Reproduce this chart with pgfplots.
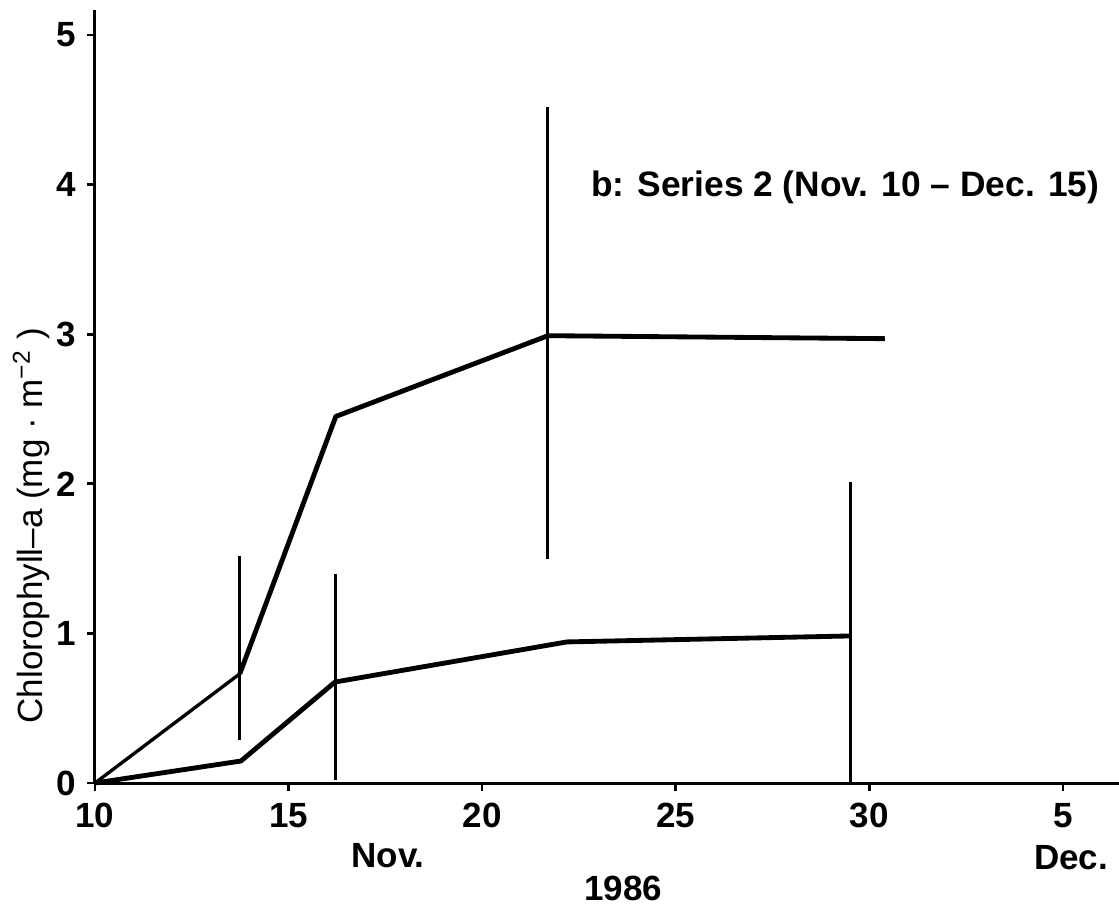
\documentclass[border=0pt]{standalone}
\usepackage{fontspec}
\setmainfont{Liberation Sans}
\usepackage{pgfplots}
\pgfplotsset{compat=1.18}
\begin{document}
\begin{tikzpicture}
\begin{axis}[
  name=ax,
  scale only axis,
  width=307.2pt, height=231.9pt,
  xmin=10, xmax=36.45, ymin=0, ymax=5.167,
  axis x line*=bottom, axis y line*=left,
  axis line style={line width=0.9pt},
  xtick={10,15,20,25,30,35}, xticklabels={10,15,20,25,30,5},
  ytick={0,1,2,3,4,5}, yticklabels={0,1,2,3,4,5},
  tick align=outside, major tick length=2.4pt,
  tick style={line width=0.8pt, black},
  ticklabel style={font=\bfseries\fontsize{10.5}{12}\selectfont},
  xticklabel style={inner sep=3.4pt},
  yticklabel style={inner sep=3.2pt},
  /pgf/number format/assume math mode=true,
  clip=false,
]
% upper series
\addplot[black, line width=1.0pt, line join=round] coordinates {(10,0) (13.74,0.73)};
\addplot[black, line width=1.45pt, line join=round] coordinates {(13.74,0.73) (16.22,2.45) (21.70,2.99) (30.40,2.97)};
% lower series
\addplot[black, line width=1.45pt, line join=round] coordinates {(10,0) (13.77,0.147) (16.20,0.675) (22.19,0.943) (29.52,0.983)};
% vertical range bars
\addplot[black, line width=0.9pt] coordinates {(13.74,0.29) (13.74,1.52)};
\addplot[black, line width=0.9pt] coordinates {(16.20,0.02) (16.20,1.40)};
\addplot[black, line width=0.9pt] coordinates {(21.70,1.50) (21.70,4.52)};
\addplot[black, line width=0.9pt] coordinates {(29.52,0) (29.52,2.01)};
% texts
\node[anchor=base west, font=\bfseries\fontsize{10.6}{12}\selectfont, inner sep=0pt] at (axis cs:22.8,3.92) {b: Series 2 (Nov. 10 – Dec. 15)};
\node[anchor=base, font=\bfseries\fontsize{10.5}{12}\selectfont, inner sep=0pt] at ([yshift=-25.4pt]axis cs:17.57,0) {Nov.};
\node[anchor=base, font=\bfseries\fontsize{10.5}{12}\selectfont, inner sep=0pt] at ([yshift=-25.8pt]axis cs:35.21,0) {Dec.};
\node[anchor=base, font=\bfseries\fontsize{10.5}{12}\selectfont, inner sep=0pt] at ([yshift=-35.3pt]axis cs:23.64,0) {1986};
\node[rotate=90, anchor=base, font=\fontsize{10.5}{12}\selectfont, inner sep=0pt] at ([xshift=-15.6pt]axis cs:10,1.72) {Chlorophyll–a (mg · m\textsuperscript{−2} )};
\end{axis}
\pgfresetboundingbox
\path[use as bounding box] (-28.5pt,-36.6pt) rectangle (307.2pt,234.9pt);
\end{tikzpicture}
\end{document}
